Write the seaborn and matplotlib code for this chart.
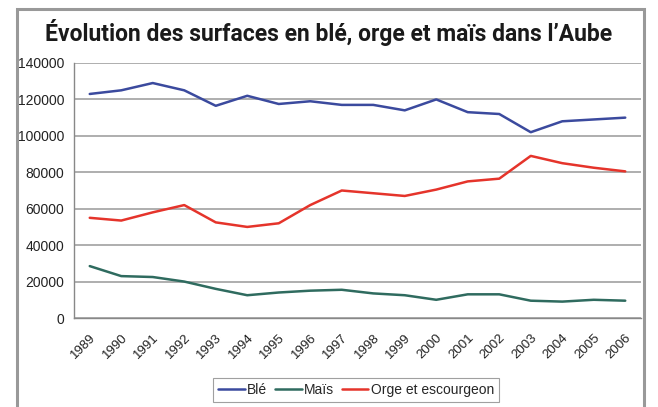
import matplotlib
matplotlib.use("Agg")
import matplotlib.pyplot as plt
import matplotlib.transforms as mtransforms
import seaborn as sns
import pandas as pd
import numpy as np
from matplotlib.patches import Rectangle

years = [str(y) for y in range(1989, 2007)]
ble = [123000, 125000, 129000, 125000, 116500, 122000, 117500, 119000, 117000,
       117000, 114000, 120000, 113000, 112000, 102000, 108000, 109000, 110000]
mais = [28500, 23000, 22500, 20000, 16000, 12500, 14000, 15000, 15500,
        13500, 12500, 10000, 13000, 13000, 9500, 9000, 10000, 9500]
orge = [55000, 53500, 58000, 62000, 52500, 50000, 52000, 62000, 70000,
        68500, 67000, 70500, 75000, 76500, 89000, 85000, 82500, 80500]
series_names = ["Blé", "Maïs", "Orge et escourgeon"]
colors = ["#3b4a9e", "#2f6b5f", "#e5342b"]
yticks = [0, 20000, 40000, 60000, 80000, 100000, 120000, 140000]

sns.set_style("white")
plt.rcParams['font.family'] = ['Liberation Sans', 'DejaVu Sans']

rows = []
for name, vals in zip(series_names, [ble, mais, orge]):
    for i, v in enumerate(vals):
        rows.append({"idx": i, "Année": years[i], "Surface": v, "Culture": name})
df = pd.DataFrame(rows)

fig = plt.figure(figsize=(6.58, 4.07), dpi=100)
ax = fig.add_axes([74/658, 1-318/407, (641-74)/658, (318-63)/407])

sns.lineplot(data=df, x="idx", y="Surface", hue="Culture",
             palette=dict(zip(series_names, colors)), linewidth=1.8,
             ax=ax, legend=False)

ax.set_xlim(-0.5, len(years) - 0.5)
ax.set_ylim(0, 140000)
ax.set_yticks(yticks)
ax.set_yticklabels([str(t) for t in yticks], fontsize=10, color="#222222")
ax.yaxis.grid(True, color="#a8a8a8", linewidth=1.3)
ax.set_axisbelow(True)

ax.set_xticks(np.arange(-0.5, len(years), 1.0))
ax.set_xticklabels([])
ax.set_xticks(np.arange(len(years)), minor=True)
ax.set_xticklabels(years, minor=True, rotation=45, ha="right",
                   rotation_mode="anchor", fontsize=9.5, color="#222222")
shift = mtransforms.ScaledTranslation(-13/100, 0, fig.dpi_scale_trans)
for lbl in ax.get_xticklabels(minor=True):
    lbl.set_transform(lbl.get_transform() + shift)
ax.tick_params(axis="x", which="major", direction="out", length=4,
               color="#888888", width=1)
ax.tick_params(axis="x", which="minor", length=0, pad=10)
ax.tick_params(axis="y", direction="out", length=4, color="#888888",
               width=1, pad=3)
ax.set_xlabel("")
ax.set_ylabel("")
for s in ["top", "right"]:
    ax.spines[s].set_visible(False)
for s in ["left", "bottom"]:
    ax.spines[s].set_color("#888888")
    ax.spines[s].set_linewidth(1)

handles = [plt.Line2D([], [], color=c, linewidth=1.8) for c in colors]
leg = fig.legend(handles, series_names, loc="center",
                 bbox_to_anchor=(356/658, 1-390/407), ncol=3, fontsize=10,
                 frameon=True, fancybox=False, handlelength=1.9,
                 handletextpad=0.15, columnspacing=0.6, borderpad=0.35)
leg.get_frame().set_edgecolor("#888888")
leg.get_frame().set_linewidth(0.8)

fig.text(329/658, 1-32/407,
         "Évolution des surfaces en blé, orge et maïs dans l’Aube",
         ha="center", va="center", fontsize=16.5, fontweight="bold",
         family=['Roboto', 'DejaVu Sans'], color="#1a1a1a")

fig.patches.append(Rectangle((17/658, -0.05), (644-17)/658, 1.05-9/407,
                             transform=fig.transFigure, fill=False,
                             edgecolor="#999999", linewidth=2.2))

fig.savefig("out.png", dpi=100)
